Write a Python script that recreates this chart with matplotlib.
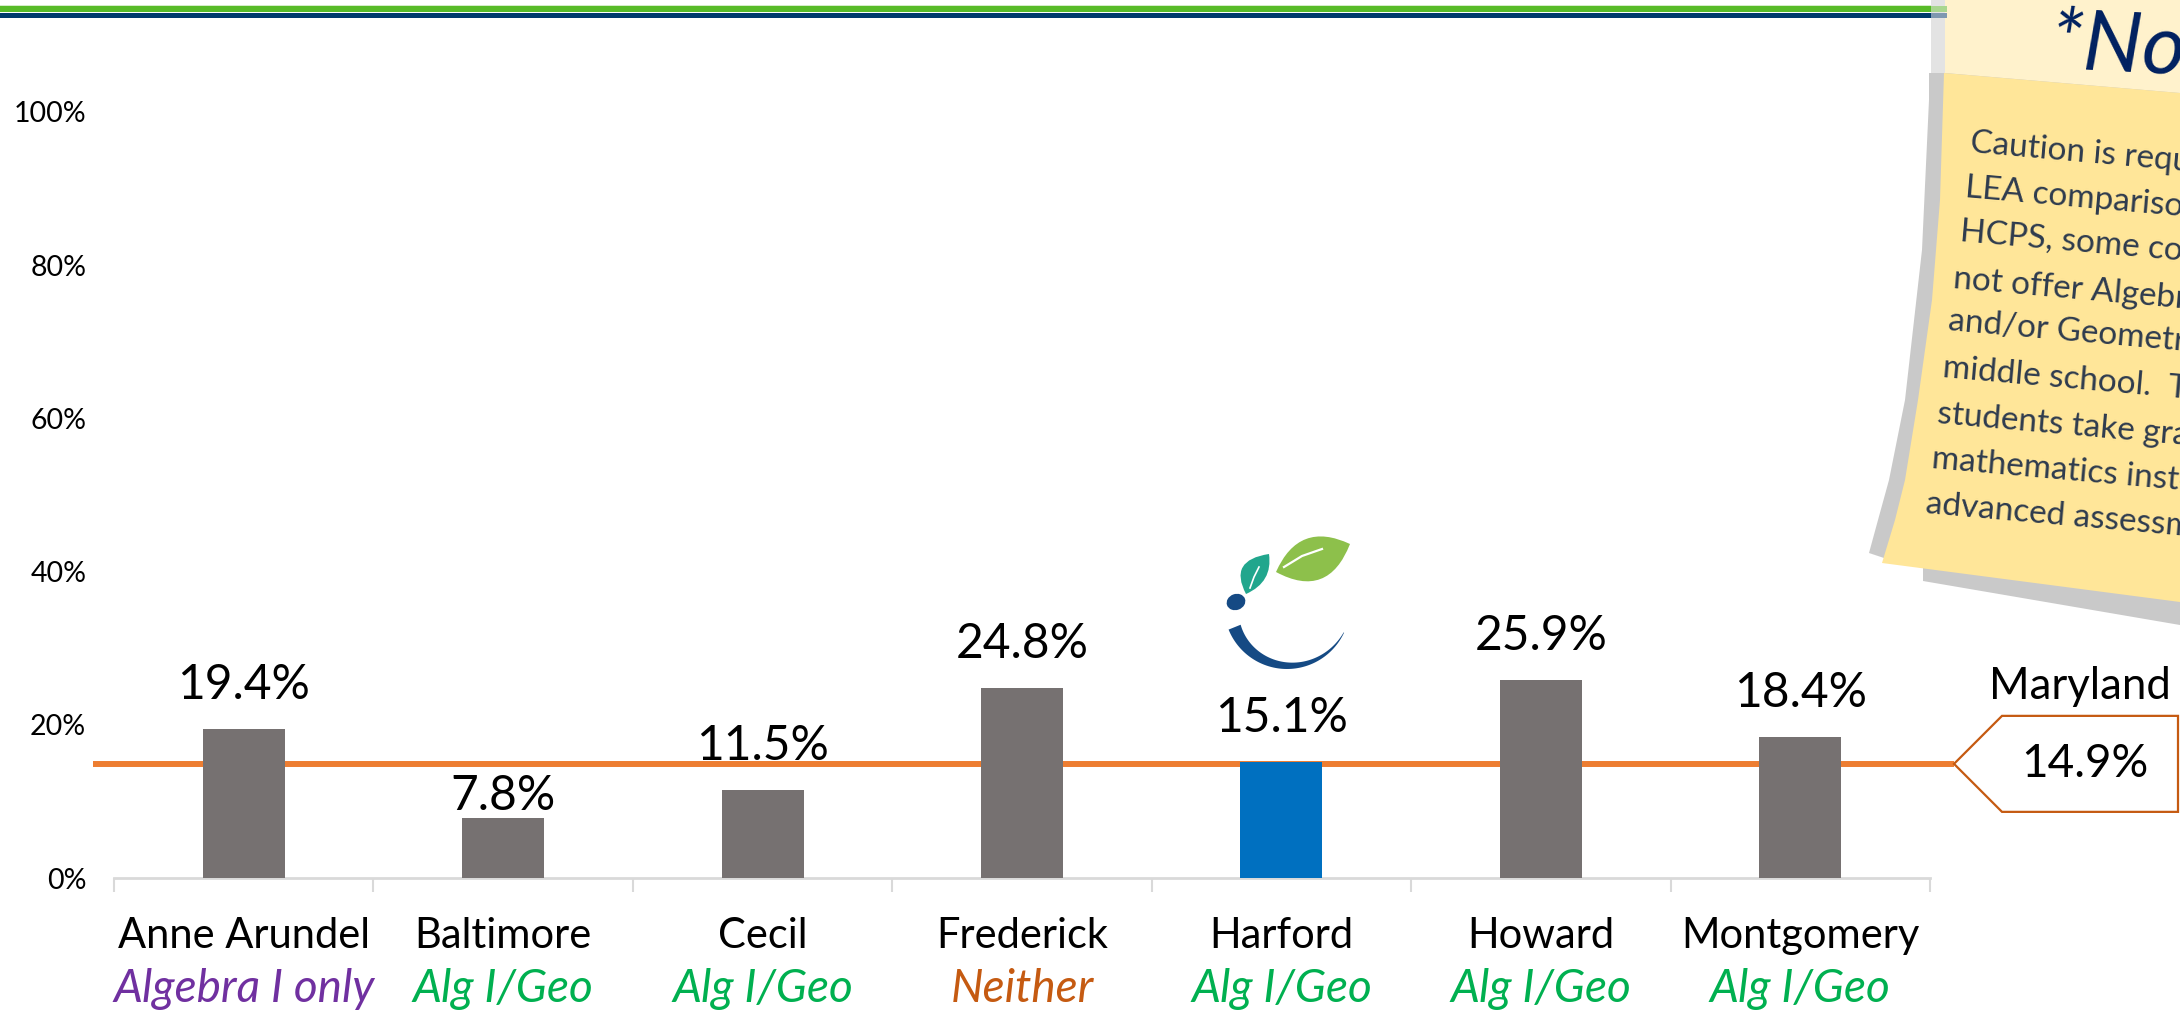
"""
plot.py
-------
Bar chart of the percent of students per county (LEA), with the Maryland
state figure drawn as a reference line, plus the sticky note and logo.
Saves out.png (2180x1013).
"""

import numpy as np
import matplotlib.pyplot as plt
from matplotlib.patches import Rectangle, Polygon, PathPatch, Ellipse
from matplotlib.path import Path

# ---------- Data ----------
counties = ["Anne Arundel", "Baltimore", "Cecil", "Frederick", "Harford", "Howard", "Montgomery"]
course_offer = ["Algebra I only", "Alg I/Geo", "Alg I/Geo", "Neither", "Alg I/Geo", "Alg I/Geo", "Alg I/Geo"]
pct_values = [19.4, 7.8, 11.5, 24.8, 15.1, 25.9, 18.4]
maryland_pct = 14.9
y_ticks = [0, 20, 40, 60, 80, 100]
highlight = "Harford"

note_title = "*Note"
note_lines = [
    "Caution is required when making",
    "LEA comparisons.  Unlike",
    "HCPS, some counties do",
    "not offer Algebra I",
    "and/or Geometry in",
    "middle school.  These",
    "students take grade-level",
    "mathematics instead of the",
    "advanced assessments.",
]

# ---------- Style ----------
W, H, DPI = 2180, 1013, 100
FONT = ["Lato", "DejaVu Sans"]
GREY_BAR = "#767171"
BLUE_BAR = "#0070C0"
ORANGE = "#ED7D31"
DARK_ORANGE = "#C55A11"
AXIS_GREY = "#D9D9D9"
offer_colors = {"Algebra I only": "#7030A0", "Alg I/Geo": "#00B050", "Neither": "#C55A11"}
label_nudge = {"Baltimore": 22}   # label placed under the state line

plt.rcParams["font.family"] = FONT


def leaf(ax, base, tip, ctrl_a, ctrl_b, color):
    verts = [base, ctrl_a, tip, ctrl_b, base, base]
    codes = [Path.MOVETO, Path.CURVE3, Path.CURVE3, Path.CURVE3, Path.CURVE3, Path.CLOSEPOLY]
    ax.add_patch(PathPatch(Path(verts, codes), facecolor=color, edgecolor="none"))


def draw_logo(ax):
    leaf(ax, (1276, 572), (1350, 544), (1299, 520), (1328, 600), "#8DC04B")
    ax.plot([1284, 1302, 1322], [567, 556, 549], color="white", lw=1.6)
    leaf(ax, (1246, 594), (1269, 554), (1228, 560), (1273, 582), "#21A68D")
    ax.plot([1250, 1254, 1259], [588, 577, 567], color="white", lw=1.2)
    ax.add_patch(Ellipse((1236, 602), 19, 16, angle=-20, facecolor="#154A84", edgecolor="none"))
    # tapered arc
    cx, cy, r = 1287, 606, 63
    th = np.radians(np.linspace(158, 25, 80))
    thick = np.linspace(13, 0.5, 80)
    outer = np.c_[cx + r * np.cos(th), cy + r * np.sin(th)]
    inner = np.c_[cx + (r - thick) * np.cos(th), cy + (r - thick) * np.sin(th)]
    ax.add_patch(Polygon(np.vstack([outer, inner[::-1]]), closed=True,
                         facecolor="#154A84", edgecolor="none"))


def draw_note(ax):
    # shadow
    shadow = [(1929, 73), (2180, 73), (2180, 625), (1923, 581), (1923, 568), (1890, 560),
              (1869, 553), (1878, 520), (1889, 480), (1905, 400), (1922, 250), (1929, 100)]
    ax.add_patch(Polygon(shadow, closed=True, facecolor="#C9C9C9", edgecolor="none"))
    ax.add_patch(Rectangle((1931, 0), 14, 73, facecolor="#E3E3E3", edgecolor="none"))
    # top strip + body
    ax.add_patch(Polygon([(1945, 0), (2180, 0), (2180, 93), (1945, 73)], closed=True,
                         facecolor="#FFF2CC", edgecolor="none"))
    body = [(1944, 73), (2180, 93), (2180, 602), (1882, 563), (1895, 520), (1905, 480),
            (1918, 400), (1932, 300), (1940, 200)]
    ax.add_patch(Polygon(body, closed=True, facecolor="#FFE699", edgecolor="none"))

    ax.text(2050, 44, note_title, fontsize=60, style="italic", color="#002060",
            ha="left", va="center", rotation=-3, rotation_mode="anchor", clip_on=True)
    x_starts = [1970, 1965, 1960, 1953, 1948, 1943, 1937, 1932, 1926]
    y_starts = [143, 188, 232, 279, 321, 368, 414, 459, 504]
    for line, x0, y0 in zip(note_lines, x_starts, y_starts):
        ax.text(x0, y0, line, fontsize=24, color="#2E3B4E", ha="left", va="center",
                rotation=-5, rotation_mode="anchor", clip_on=True)


def main():
    fig = plt.figure(figsize=(W / DPI, H / DPI), dpi=DPI)
    fig.patch.set_facecolor("white")

    # main chart axes
    ax = fig.add_axes([114 / W, 1 - 878 / H, 1816 / W, 766 / H])
    x = np.arange(len(counties))
    colors = [BLUE_BAR if c == highlight else GREY_BAR for c in counties]
    ax.bar(x, pct_values, width=0.316, color=colors, zorder=3)
    ax.set_xlim(-0.5, len(counties) - 0.5)
    ax.set_ylim(0, 100)

    # Maryland line, runs a bit past both ends of the axis
    ax.plot([-0.0116, 1.0132], [maryland_pct, maryland_pct], color=ORANGE, lw=4.3,
            transform=ax.get_yaxis_transform(), clip_on=False, zorder=2,
            solid_capstyle="butt")

    for s in ["top", "right", "left"]:
        ax.spines[s].set_visible(False)
    ax.spines["bottom"].set_color(AXIS_GREY)
    ax.spines["bottom"].set_linewidth(2)
    ax.set_xticks(np.arange(-0.5, len(counties), 1.0))
    ax.set_xticklabels([])
    ax.tick_params(axis="x", length=10, width=1.5, color=AXIS_GREY, direction="out")
    ax.set_yticks(y_ticks)
    ax.set_yticklabels([f"{v}%" for v in y_ticks], fontsize=20.5)
    ax.tick_params(axis="y", length=0, pad=20)

    for i, (name, val) in enumerate(zip(counties, pct_values)):
        ax.annotate(f"{val}%", xy=(i, val), xytext=(0, label_nudge.get(name, 44)),
                    textcoords="offset pixels", ha="center", va="center", fontsize=34.5)
        ax.annotate(name, xy=(i, 0), xycoords=("data", "axes fraction"),
                    xytext=(0, -58), textcoords="offset pixels",
                    ha="center", va="center", fontsize=30, annotation_clip=False)
        ax.annotate(course_offer[i], xy=(i, 0), xycoords=("data", "axes fraction"),
                    xytext=(0, -111), textcoords="offset pixels", style="italic",
                    color=offer_colors[course_offer[i]],
                    ha="center", va="center", fontsize=33, annotation_clip=False)

    # overlay in image pixel coords for decoration
    ov = fig.add_axes([0, 0, 1, 1], zorder=5)
    ov.set_xlim(0, W)
    ov.set_ylim(H, 0)
    ov.axis("off")
    ov.patch.set_alpha(0)

    # header lines
    ov.add_patch(Rectangle((0, 4.5), 1931, 1.3, facecolor="#D5EDC8", edgecolor="none"))
    ov.add_patch(Rectangle((0, 5.8), 1931, 5.8, facecolor="#58BB28", edgecolor="none"))
    ov.add_patch(Rectangle((0, 12.6), 1931, 5.8, facecolor="#003A6C", edgecolor="none"))

    draw_note(ov)
    ov.add_patch(Rectangle((1931, 5.8), 16, 5.8, facecolor="#A9D68F", edgecolor="none"))
    ov.add_patch(Rectangle((1931, 12.6), 16, 5.8, facecolor="#7F98B0", edgecolor="none"))
    draw_logo(ov)

    # Maryland callout, anchored to the state value on the chart's y scale
    y_md = H - ax.transData.transform((0, maryland_pct))[1]
    callout = [(1954, y_md), (2002, y_md - 48), (2178, y_md - 48), (2178, y_md + 48), (2002, y_md + 48)]
    ov.add_patch(Polygon(callout, closed=True, facecolor="white", edgecolor=DARK_ORANGE, lw=1.6))
    ov.text(2085, y_md, f"{maryland_pct}%", fontsize=33, ha="center", va="center")
    ov.text(2080, y_md - 77, "Maryland", fontsize=31.5, ha="center", va="center")

    fig.savefig("out.png", dpi=DPI)


if __name__ == "__main__":
    main()
